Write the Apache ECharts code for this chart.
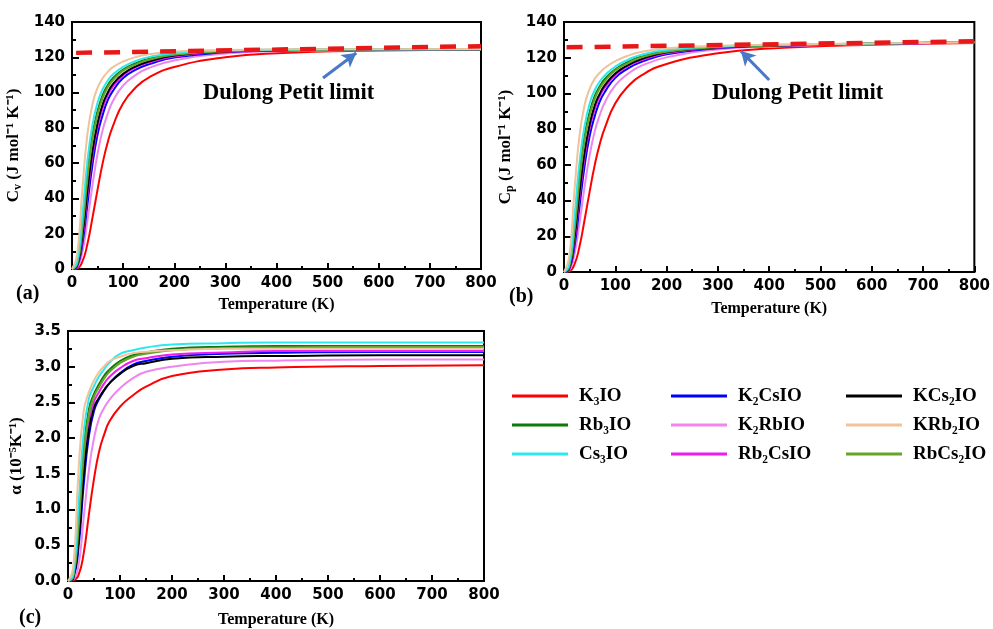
<!DOCTYPE html>
<html>
<head>
<meta charset="utf-8">
<script src="https://cdn.jsdelivr.net/npm/echarts@6/dist/echarts.min.js"></script>
<style>
  html, body { margin: 0; padding: 0; background: #fff; }
  #chart { width: 993px; height: 629px; }
</style>
</head>
<body>
<div id="chart"></div>
<script>
// Temperature grid (K) shared by every curve
const temps = [0, 10, 20, 30, 40, 50, 60, 70, 80, 100, 125, 150, 200, 300, 400, 600, 800];

// Compound names (legend order: row by row)
const names = ['K₃IO', 'Rb₃IO', 'Cs₃IO', 'K₂CsIO', 'K₂RbIO', 'Rb₂CsIO', 'KCs₂IO', 'KRb₂IO', 'RbCs₂IO'];
const colors = ['#ff0000', '#0b7a0b', '#2ee8ee', '#0000ff', '#ee86ee', '#ee1cee', '#000000', '#f0c39a', '#66a32a'];

// (a) heat capacity at constant volume, J mol^-1 K^-1
const cvK3IO    = [0, 0.4, 4, 14, 29, 45, 60, 72, 81, 94, 103, 108.5, 114.5, 120, 122.3, 123.8, 124.3];
const cvRb3IO   = [0, 3.1, 24.2, 53.7, 76, 89.6, 98.6, 104.2, 108.2, 113, 116.6, 119, 121.7, 123.6, 124.1, 124.5, 124.6];
const cvCs3IO   = [0, 4.1, 29.6, 60.7, 81.6, 94.4, 101.9, 106.8, 110.2, 114.6, 117.9, 120.1, 122.3, 123.8, 124.3, 124.55, 124.6];
const cvK2CsIO  = [0, 1.4, 13.6, 36.2, 59, 76.2, 87.3, 95.7, 101, 108.2, 113, 116, 119.9, 122.8, 123.8, 124.4, 124.55];
const cvK2RbIO  = [0, 0.9, 9.3, 27, 47.4, 65.3, 78.8, 88.1, 95.2, 104, 110, 113.9, 118.2, 122.1, 123.4, 124.2, 124.5];
const cvRb2CsIO = [0, 1.9, 16.4, 41.3, 64.2, 80.5, 91.2, 98.6, 103.4, 109.8, 114.4, 117, 120.5, 123.1, 123.9, 124.45, 124.6];
const cvKCs2IO  = [0, 2.2, 18.2, 44, 67, 82.7, 93.4, 100, 104.8, 110.6, 114.9, 117.6, 121, 123.3, 124, 124.5, 124.6];
const cvKRb2IO  = [0, 8.2, 44, 76, 93.4, 102.6, 108.2, 111.7, 114.4, 117.6, 120.2, 121.7, 123.3, 124.2, 124.5, 124.6, 124.65];
const cvRbCs2IO = [0, 2.9, 22, 50.8, 73.4, 87.5, 97, 103, 107, 112.4, 116, 118.6, 121.4, 123.5, 124.1, 124.5, 124.6];

// (b) heat capacity at constant pressure, J mol^-1 K^-1
const cpK3IO    = [0, 0.4, 4, 14, 29, 45, 60, 72, 81, 94.5, 104, 110, 116.5, 122.5, 125.1, 127.2, 128.3];
const cpRb3IO   = [0, 3.1, 24.2, 53.7, 76, 89.6, 98.6, 104.2, 108.2, 113.5, 117.6, 120.5, 123.7, 126.1, 126.9, 127.9, 128.6];
const cpCs3IO   = [0, 4.1, 29.6, 60.7, 81.6, 94.4, 101.9, 106.8, 110.2, 115.1, 118.9, 121.6, 124.3, 126.3, 127.1, 127.95, 128.6];
const cpK2CsIO  = [0, 1.4, 13.6, 36.2, 59, 76.2, 87.3, 95.7, 101, 108.7, 114, 117.5, 121.9, 125.3, 126.6, 127.8, 128.55];
const cpK2RbIO  = [0, 0.9, 9.3, 27, 47.4, 65.3, 78.8, 88.1, 95.2, 104.5, 111, 115.4, 120.2, 124.6, 126.2, 127.6, 128.5];
const cpRb2CsIO = [0, 1.9, 16.4, 41.3, 64.2, 80.5, 91.2, 98.6, 103.4, 110.3, 115.4, 118.5, 122.5, 125.6, 126.7, 127.85, 128.6];
const cpKCs2IO  = [0, 2.2, 18.2, 44, 67, 82.7, 93.4, 100, 104.8, 111.1, 115.9, 119.1, 123, 125.8, 126.8, 127.9, 128.6];
const cpKRb2IO  = [0, 8.2, 44, 76, 93.4, 102.6, 108.2, 111.7, 114.4, 118.1, 121.2, 123.2, 125.3, 126.7, 127.3, 128, 128.65];
const cpRbCs2IO = [0, 2.9, 22, 50.8, 73.4, 87.5, 97, 103, 107, 112.9, 117, 120.1, 123.4, 126, 126.9, 127.9, 128.6];

// (c) thermal expansion coefficient, 10^-5 K^-1
const alK3IO    = [0, 0.01, 0.08, 0.38, 0.92, 1.43, 1.82, 2.06, 2.24, 2.44, 2.6, 2.72, 2.87, 2.96, 2.99, 3.01, 3.02];
const alRb3IO   = [0, 0.07, 0.81, 1.83, 2.4, 2.62, 2.76, 2.88, 2.96, 3.08, 3.16, 3.2, 3.25, 3.28, 3.29, 3.29, 3.29];
const alCs3IO   = [0, 0.09, 1.04, 2.06, 2.55, 2.73, 2.87, 2.97, 3.06, 3.18, 3.23, 3.27, 3.31, 3.33, 3.34, 3.34, 3.34];
const alK2CsIO  = [0, 0.035, 0.455, 1.33, 2.02, 2.38, 2.55, 2.67, 2.77, 2.91, 3.03, 3.08, 3.14, 3.18, 3.195, 3.205, 3.205];
const alK2RbIO  = [0, 0.02, 0.21, 0.87, 1.54, 2.0, 2.28, 2.43, 2.54, 2.7, 2.84, 2.93, 3.0, 3.07, 3.085, 3.1, 3.1];
const alRb2CsIO = [0, 0.05, 0.64, 1.61, 2.24, 2.51, 2.65, 2.77, 2.86, 2.98, 3.08, 3.12, 3.17, 3.2, 3.22, 3.22, 3.22];
const alKCs2IO  = [0, 0.04, 0.54, 1.47, 2.1, 2.43, 2.57, 2.68, 2.77, 2.9, 3.01, 3.05, 3.11, 3.14, 3.15, 3.16, 3.16];
const alKRb2IO  = [0, 0.19, 1.51, 2.37, 2.64, 2.81, 2.93, 3.01, 3.08, 3.14, 3.19, 3.21, 3.23, 3.25, 3.25, 3.25, 3.25];
const alRbCs2IO = [0, 0.06, 0.72, 1.74, 2.33, 2.58, 2.72, 2.84, 2.93, 3.05, 3.14, 3.18, 3.23, 3.26, 3.27, 3.275, 3.275];

// Dulong–Petit limit lines (T, value) and annotation arrows (tail, head)
const dulongA = [[8, 122.5], [800, 126.3]];
const dulongB = [[5, 125.8], [800, 129.2]];
const arrowA = [[491, 108.3], [556, 122.4]];
const arrowB = [[400, 107.5], [345, 123.7]];

// Tick values
const xTicks = { min: 0, max: 800, interval: 100 };
const cTicks = { min: 0, max: 140, interval: 20 };
const aTicks = { min: 0, max: 3.5, interval: 0.5 };

const cvSets = [cvK3IO, cvRb3IO, cvCs3IO, cvK2CsIO, cvK2RbIO, cvRb2CsIO, cvKCs2IO, cvKRb2IO, cvRbCs2IO];
const cpSets = [cpK3IO, cpRb3IO, cpCs3IO, cpK2CsIO, cpK2RbIO, cpRb2CsIO, cpKCs2IO, cpKRb2IO, cpRbCs2IO];
const alSets = [alK3IO, alRb3IO, alCs3IO, alK2CsIO, alK2RbIO, alRb2CsIO, alKCs2IO, alKRb2IO, alRbCs2IO];
// drawing order (back to front)
const drawOrder = [0, 4, 3, 5, 6, 1, 8, 2, 7];

const SERIF = '"Liberation Serif", "Times New Roman", serif';
const SANS = '"DejaVu Sans", Verdana, sans-serif';

function zip(vals) { return temps.map((t, i) => [t, vals[i]]); }

function xAxisFor(gi, gap) {
  return {
    type: 'value', gridIndex: gi, min: xTicks.min, max: xTicks.max, interval: xTicks.interval,
    name: 'Temperature (K)', nameLocation: 'middle', nameGap: gap,
    nameTextStyle: { fontFamily: SERIF, fontWeight: 'bold', fontSize: 16, color: '#000' },
    axisLine: { show: true, lineStyle: { color: '#000', width: 2 } },
    axisTick: { show: true, inside: true, length: 6, lineStyle: { color: '#000', width: 2 } },
    minorTick: { show: true, splitNumber: 2, length: 3, lineStyle: { color: '#000', width: 2 } },
    axisLabel: { fontFamily: SANS, fontWeight: 'bold', fontSize: 15, color: '#000', margin: 7 },
    splitLine: { show: false }
  };
}

function yAxisFor(gi, ticks, nameRich, gap, fmt) {
  return {
    type: 'value', gridIndex: gi, min: ticks.min, max: ticks.max, interval: ticks.interval,
    name: nameRich, nameLocation: 'middle', nameGap: gap, nameRotate: 90,
    nameTextStyle: {
      fontFamily: SERIF, fontWeight: 'bold', fontSize: 17, color: '#000',
      rich: {
        n: { fontFamily: SERIF, fontWeight: 'bold', fontSize: 17, color: '#000', lineHeight: 20 },
        s: { fontFamily: SERIF, fontWeight: 'bold', fontSize: 12, color: '#000', verticalAlign: 'bottom', lineHeight: 20 }
      }
    },
    axisLine: { show: true, lineStyle: { color: '#000', width: 2 } },
    axisTick: { show: true, inside: true, length: 7, lineStyle: { color: '#000', width: 2 } },
    minorTick: { show: true, splitNumber: 2, length: 4, lineStyle: { color: '#000', width: 2 } },
    axisLabel: { fontFamily: SANS, fontWeight: 'bold', fontSize: 15, color: '#000', margin: 7, formatter: fmt },
    splitLine: { show: false }
  };
}

const series = [];
function addPanel(sets, gi) {
  drawOrder.forEach(k => {
    series.push({
      type: 'line', name: names[k], xAxisIndex: gi, yAxisIndex: gi,
      data: zip(sets[k]), showSymbol: false, symbol: 'none',
      smooth: 0.5,
      lineStyle: { color: colors[k], width: 2 }, itemStyle: { color: colors[k] },
      emphasis: { disabled: true }, z: 3
    });
  });
}
addPanel(cvSets, 0);
addPanel(cpSets, 1);
addPanel(alSets, 2);

function dulongSeries(gi, line, arrow) {
  return {
    type: 'line', xAxisIndex: gi, yAxisIndex: gi, data: line, symbol: 'none',
    lineStyle: { color: '#e81818', width: 4.5, type: [16, 12] }, z: 5, silent: true,
    markLine: {
      silent: true, symbol: ['none', 'arrow'], symbolSize: [12, 14],
      lineStyle: { color: '#4a78c8', width: 3, type: 'solid' }, label: { show: false },
      data: [[{ coord: arrow[0] }, { coord: arrow[1] }]]
    }
  };
}
series.push(dulongSeries(0, dulongA, arrowA));
series.push(dulongSeries(1, dulongB, arrowB));

function legendCol(left, items) {
  return {
    orient: 'vertical', left: left, top: 381, data: items,
    icon: 'rect', itemWidth: 56, itemHeight: 3, itemGap: 9, selectedMode: false,
    textStyle: { fontFamily: SERIF, fontWeight: 'bold', fontSize: 19, color: '#000', lineHeight: 20, padding: [0, 0, 0, 6] }
  };
}

const option = {
  backgroundColor: '#fff',
  animation: false,
  grid: [
    { left: 72, top: 22, width: 409, height: 247, show: true, borderColor: '#000', borderWidth: 2 },
    { left: 564, top: 22, width: 412, height: 250, show: true, borderColor: '#000', borderWidth: 2 },
    { left: 68, top: 331, width: 416, height: 253, show: true, borderColor: '#000', borderWidth: 2 }
  ],
  xAxis: [xAxisFor(0, 28), xAxisFor(1, 29), xAxisFor(2, 31)],
  yAxis: [
    yAxisFor(0, cTicks, '{n|C}{s|v}{n| (J mol⁻¹ K⁻¹)}', 48, v => v),
    yAxisFor(1, cTicks, '{n|C}{s|p}{n| (J mol⁻¹ K⁻¹)}', 48, v => v),
    yAxisFor(2, aTicks, '{n|α (10⁻⁵K⁻¹)}', 41, v => v.toFixed(1))
  ],
  legend: [
    legendCol(507, ['K₃IO', 'Rb₃IO', 'Cs₃IO']),
    legendCol(666, ['K₂CsIO', 'K₂RbIO', 'Rb₂CsIO']),
    legendCol(841, ['KCs₂IO', 'KRb₂IO', 'RbCs₂IO'])
  ],
  graphic: [
    { type: 'text', left: 16, top: 284, style: { text: '(a)', font: 'bold 20px ' + SERIF, fill: '#000' } },
    { type: 'text', left: 509, top: 287, style: { text: '(b)', font: 'bold 20px ' + SERIF, fill: '#000' } },
    { type: 'text', left: 19, top: 608, style: { text: '(c)', font: 'bold 20px ' + SERIF, fill: '#000' } },
    { type: 'text', left: 203, top: 82, style: { text: 'Dulong Petit limit', font: 'bold 22.5px ' + SERIF, fill: '#000' } },
    { type: 'text', left: 712, top: 82, style: { text: 'Dulong Petit limit', font: 'bold 22.5px ' + SERIF, fill: '#000' } }
  ],
  series: series
};

const chart = echarts.init(document.getElementById('chart'), null, { renderer: 'canvas' });
chart.setOption(option);
</script>
</body>
</html>
